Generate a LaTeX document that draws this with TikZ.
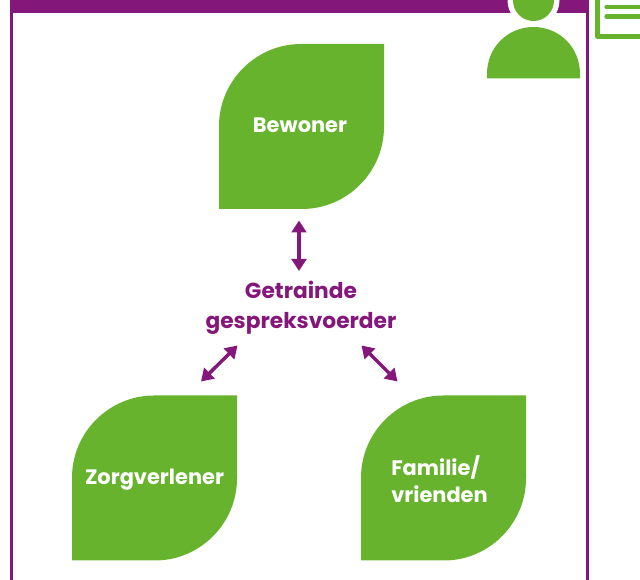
\documentclass[tikz,border=0pt]{standalone}
\usepackage{fontspec}
\setmainfont{Poppins}
\usetikzlibrary{arrows.meta}
\definecolor{leafgreen}{HTML}{67B32D}
\definecolor{plum}{HTML}{84177A}
\tikzset{
  x=0.75pt,y=-0.75pt,
  leaf/.style={fill=leafgreen,draw=none},
  leaflabel/.style={text=white,font=\fontsize{15.7}{20.2}\selectfont\bfseries,align=left},
  midlabel/.style={text=plum,font=\fontsize{16.3}{22.5}\selectfont\bfseries,align=center},
  biarrow/.style={draw=plum,line width=2.6pt,{Triangle[length=9pt,width=11pt]}-{Triangle[length=9pt,width=11pt]},shorten >=0pt,shorten <=0pt},
  framepart/.style={fill=plum,draw=none},
}
\newcommand{\leafshape}[2]{% top-left corner x,y
  \fill[leaf] (#1+82,#2) -- (#1+165,#2) -- (#1+165,#2+83)
    .. controls (#1+165,#2+128) and (#1+128,#2+165) .. (#1+83,#2+165)
    -- (#1,#2+165) -- (#1,#2+82)
    .. controls (#1,#2+37) and (#1+37,#2) .. (#1+82,#2) -- cycle;
}
\begin{document}
\begin{tikzpicture}
\useasboundingbox (0,0) rectangle (640,580);
\clip (0,0) rectangle (640,580);
% frame
\fill[framepart] (10,0) rectangle (588,13);
\fill[framepart] (10,0) rectangle (13,580);
\fill[framepart] (585.5,0) rectangle (588.5,580);
% person
\fill[white] (533.5,0.5) circle[radius=26];
\fill[leafgreen] (533.5,0.5) circle[radius=20.5];
\fill[white] (484,81) rectangle (583,50);
\fill[leafgreen] (487,78.5) -- (487,74) .. controls (487,47) and (508,27) .. (533.5,27) .. controls (559,27) and (580,47) .. (580,74) -- (580,78.5) -- cycle;
% document icon
\draw[leafgreen,line width=3.4pt,line join=round] (597.5,-10) -- (597.5,36.5) -- (650,36.5);
\draw[leafgreen,line width=3.2pt,line cap=round] (606.5,7) -- (650,7);
\draw[leafgreen,line width=3.2pt,line cap=round] (606.5,16.5) -- (650,16.5);
% leaves
\leafshape{219}{44}
\leafshape{72}{395.5}
\leafshape{361}{395.5}
% labels
\node[leaflabel] (bewoner) at (300,125.5) {Bewoner};
\node[leaflabel] (zorg) at (154.5,479.5) {Zorgverlener};
\node[leaflabel] (familie) at (439.5,479) {Familie/\\vrienden};
\node[midlabel] (gespreks) at (301,308) {Getrainde\\gespreksvoerder};
% connectors
\coordinate (a1) at (299,220.5);
\coordinate (a2) at (299,271);
\coordinate (b1) at (237.5,345.5);
\coordinate (b2) at (201,381.5);
\coordinate (c1) at (361.5,345.5);
\coordinate (c2) at (397.5,381.5);
\draw[biarrow] (a1) -- (a2);
\draw[biarrow] (b1) -- (b2);
\draw[biarrow] (c1) -- (c2);
\end{tikzpicture}
\end{document}
